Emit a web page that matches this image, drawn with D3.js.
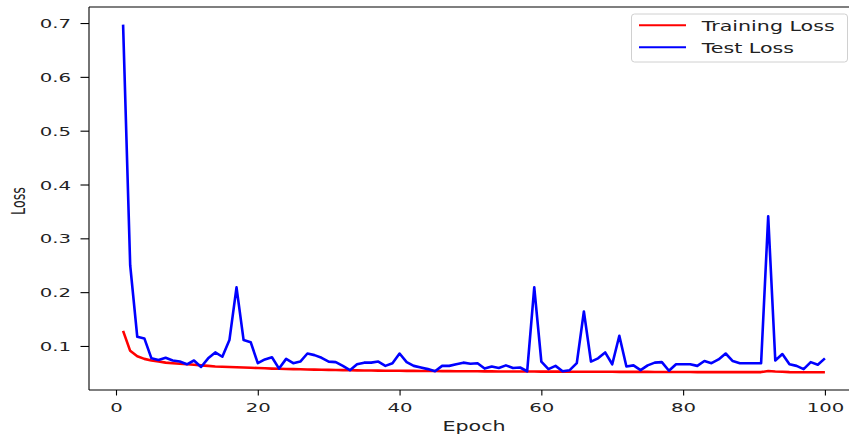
<!DOCTYPE html>
<html>
<head>
<meta charset="utf-8">
<script src="https://cdn.jsdelivr.net/npm/d3@7"></script>
<style>
  html, body { margin: 0; padding: 0; background: #fff; }
  svg { display: block; font-family: "DejaVu Sans", sans-serif; }
</style>
</head>
<body>
<svg id="chart" width="849" height="437"></svg>
<script>
// ---- data ----
const epochs = d3.range(1, 101);
const trainingLoss = [
  0.128,0.091,0.081,0.076,0.073,0.071,0.069,0.068,0.067,0.066,
  0.065,0.064,0.063,0.062,0.0615,0.061,0.0605,0.060,0.0595,0.059,
  0.0585,0.058,0.0577,0.0573,0.057,0.0567,0.0564,0.0561,0.0558,0.0555,
  0.0553,0.0551,0.0549,0.0547,0.0545,0.0543,0.0542,0.0541,0.054,0.0539,
  0.0538,0.0537,0.0536,0.0535,0.0534,0.0533,0.0532,0.0531,0.053,0.053,
  0.0529,0.0528,0.0528,0.0527,0.0527,0.0526,0.0526,0.0525,0.0525,0.0524,
  0.0524,0.0523,0.0523,0.0522,0.0522,0.0521,0.0521,0.052,0.052,0.052,
  0.0519,0.0519,0.0518,0.0518,0.0518,0.0517,0.0517,0.0517,0.0516,0.0516,
  0.0516,0.0515,0.0515,0.0515,0.0515,0.0514,0.0514,0.0514,0.0514,0.0514,
  0.0515,0.0535,0.0525,0.052,0.0515,0.0513,0.0512,0.0512,0.0511,0.0511
];
const testLoss = [
  0.697,0.250,0.117,0.114,0.077,0.074,0.078,0.073,0.071,0.066,
  0.073,0.061,0.077,0.088,0.080,0.111,0.209,0.111,0.107,0.068,
  0.075,0.079,0.058,0.076,0.068,0.071,0.086,0.083,0.078,0.071,
  0.070,0.063,0.055,0.066,0.069,0.069,0.071,0.063,0.068,0.086,
  0.070,0.063,0.060,0.057,0.053,0.063,0.063,0.066,0.069,0.067,
  0.068,0.058,0.062,0.059,0.064,0.059,0.060,0.053,0.209,0.071,
  0.057,0.063,0.053,0.055,0.068,0.164,0.071,0.077,0.088,0.066,
  0.119,0.062,0.064,0.055,0.064,0.069,0.070,0.054,0.066,0.066,
  0.066,0.063,0.072,0.068,0.075,0.086,0.072,0.068,0.068,0.068,
  0.068,0.341,0.073,0.085,0.066,0.063,0.057,0.070,0.065,0.077
];
const xTicks = [0, 20, 40, 60, 80, 100];
const yTicks = [0.1, 0.2, 0.3, 0.4, 0.5, 0.6, 0.7];
const seriesNames = ["Training Loss", "Test Loss"];
const seriesColors = ["#ff0000", "#0000ff"];

// ---- layout ----
const SX = 1.55; // horizontal text stretch of the reference
const plot = { left: 88, right: 860, top: 7, bottom: 390 };
const svg = d3.select("#chart");
const textColor = "#222";

const x = d3.scaleLinear().domain([-3.95, 104.95]).range([plot.left, plot.right]);
const y = d3.scaleLinear().domain([0.0182, 0.7298]).range([plot.bottom, plot.top]);

// lines
const line = d3.line().x((d, i) => x(epochs[i])).y(d => y(d));
[trainingLoss, testLoss].forEach((s, k) => {
  svg.append("path")
    .datum(s)
    .attr("d", line)
    .attr("fill", "none")
    .attr("stroke", seriesColors[k])
    .attr("stroke-width", 2.6)
    .attr("stroke-linejoin", "round");
});

// axes
const xAxis = svg.append("g")
  .attr("transform", `translate(0,${plot.bottom})`)
  .call(d3.axisBottom(x).tickValues(xTicks).tickSize(5.5).tickSizeOuter(0).tickFormat(d3.format("d")));
xAxis.select(".domain").remove();
xAxis.selectAll(".tick line").attr("stroke", "#000").attr("stroke-width", 1.1);
xAxis.selectAll(".tick text")
  .attr("y", 0).attr("dy", null)
  .attr("transform", `translate(0,22) scale(${SX},1)`)
  .attr("font-size", 12.7).attr("fill", textColor)
  .attr("font-family", "DejaVu Sans");

const yAxis = svg.append("g")
  .attr("transform", `translate(${plot.left + 1},0)`)
  .call(d3.axisLeft(y).tickValues(yTicks).tickSize(8.5).tickSizeOuter(0).tickFormat(d3.format(".1f")));
yAxis.select(".domain").remove();
yAxis.selectAll(".tick line").attr("stroke", "#000").attr("stroke-width", 1.1);
yAxis.selectAll(".tick text")
  .attr("x", 0).attr("dy", "0.36em")
  .attr("transform", `translate(-18,0) scale(${SX},1)`)
  .attr("font-size", 12.7).attr("fill", textColor)
  .attr("font-family", "DejaVu Sans");

// spines
const sp = svg.append("g").attr("stroke", "#000").attr("stroke-width", 1.1);
sp.append("line").attr("x1", plot.left + 1).attr("x2", plot.left + 1).attr("y1", plot.top).attr("y2", plot.bottom);
sp.append("line").attr("x1", plot.left + 1).attr("x2", 849).attr("y1", plot.top).attr("y2", plot.top);
sp.append("line").attr("x1", plot.left + 1).attr("x2", 849).attr("y1", plot.bottom).attr("y2", plot.bottom);

// axis labels
svg.append("text")
  .attr("transform", `translate(${(plot.left + plot.right) / 2},431) scale(${SX},1)`)
  .attr("text-anchor", "middle")
  .attr("font-size", 13.3).attr("fill", textColor)
  .text("Epoch");
svg.append("text")
  .attr("transform", `translate(25,201) scale(${SX},1) rotate(-90)`)
  .attr("text-anchor", "middle")
  .attr("font-size", 12.7).attr("fill", textColor)
  .text("Loss");

// legend
const lg = svg.append("g");
lg.append("rect")
  .attr("x", 631.5).attr("y", 14).attr("width", 216).attr("height", 48)
  .attr("rx", 3).attr("fill", "#fff").attr("fill-opacity", 0.8)
  .attr("stroke", "#d0d0d0").attr("stroke-width", 1);
const rowsY = [25.3, 47.3];
seriesNames.forEach((name, k) => {
  lg.append("line")
    .attr("x1", 639).attr("x2", 686).attr("y1", rowsY[k]).attr("y2", rowsY[k])
    .attr("stroke", seriesColors[k]).attr("stroke-width", 2.1);
  lg.append("text")
    .attr("transform", `translate(701.7,${rowsY[k] + 5.3}) scale(${SX},1)`)
    .attr("font-size", 13.3).attr("fill", textColor)
    .text(name);
});
</script>
</body>
</html>
